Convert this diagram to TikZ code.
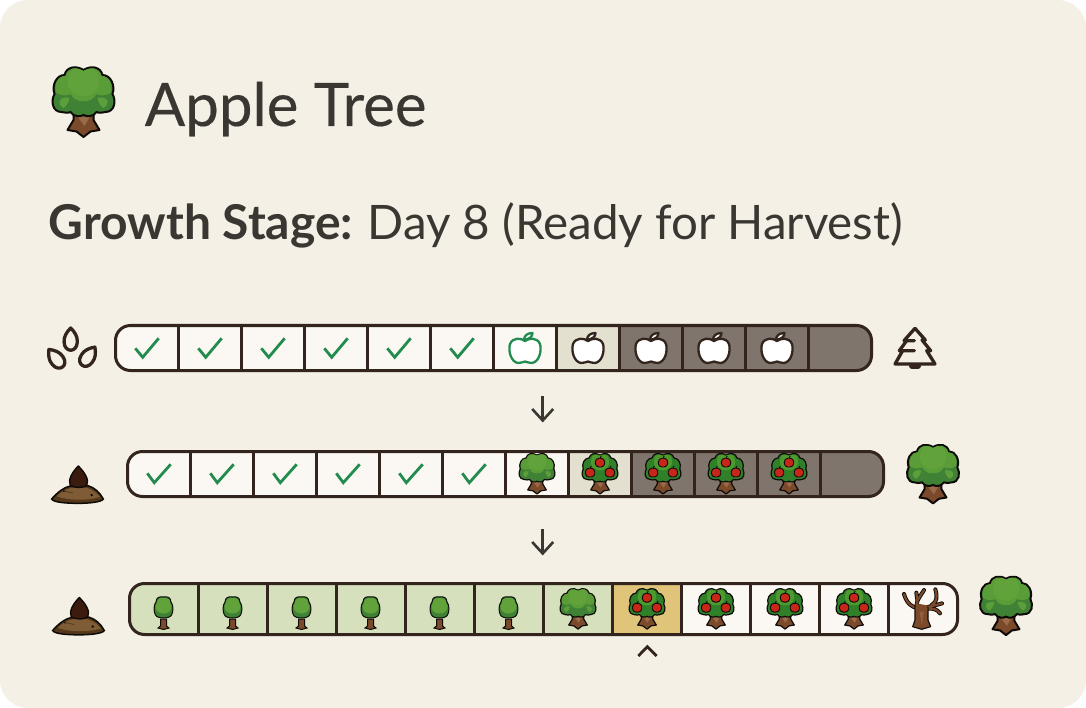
\documentclass[tikz,border=0pt]{standalone}
\usepackage{fontspec}
\usetikzlibrary{calc}
\setmainfont{Lato}
\newfontfamily\medfont[FakeBold=0.25]{Lato}
\definecolor{paper}{HTML}{F4F0E6}
\definecolor{ink}{HTML}{33241D}
\definecolor{txt}{HTML}{3A3632}
\definecolor{cellw}{HTML}{FBF8F3}
\definecolor{celll}{HTML}{E3E0D0}
\definecolor{celld}{HTML}{7F756C}
\definecolor{cellg}{HTML}{D6E0BC}
\definecolor{cellh}{HTML}{E0C47A}
\definecolor{chk}{HTML}{228B4E}
\definecolor{gdark}{HTML}{3F8235}
\definecolor{gmid}{HTML}{5A9C38}
\definecolor{glight}{HTML}{62A23A}
\definecolor{fdark}{HTML}{2F8028}
\definecolor{flight}{HTML}{4F9A2E}
\definecolor{bark}{HTML}{7B4A2B}
\definecolor{barkl}{HTML}{9A6B4A}
\definecolor{barkd}{HTML}{3A1B0E}
\definecolor{soilm}{HTML}{553719}
\definecolor{soill}{HTML}{7E5C36}
\definecolor{applr}{HTML}{C9261A}
\definecolor{outl}{HTML}{0E0A08}
\newcommand{\crownpath}{(0,-32) .. controls (-8,-37) and (-17,-35) .. (-19,-27)
 .. controls (-27,-27) and (-32,-17) .. (-29,-8)
 .. controls (-33,-1) and (-31,10) .. (-22,10)
 .. controls (-19,11) and (-15,11) .. (-13,10)
 .. controls (-10,15) and (-3,15) .. (0,13)
 .. controls (3,15) and (10,15) .. (13,10)
 .. controls (15,11) and (19,11) .. (22,10)
 .. controls (31,10) and (33,-1) .. (29,-8)
 .. controls (32,-17) and (27,-27) .. (19,-27)
 .. controls (17,-35) and (8,-37) .. (0,-32) -- cycle}
\newcommand{\trunkpath}{(-10,9) -- (-10,18) -- (-16,28) -- (-7,29.5) -- (0,35) -- (7,29.5) -- (16,28) -- (10,18) -- (10,9) -- cycle}
\newcommand{\midpath}{(0,-31) .. controls (-8,-36) and (-16,-34) .. (-18,-26)
 .. controls (-26,-26) and (-30,-17) .. (-27,-9)
 .. controls (-22,-6) and (-17,-6) .. (-13,-8)
 .. controls (-10,-2) and (-3,0) .. (0,-1)
 .. controls (3,0) and (10,-2) .. (13,-8)
 .. controls (17,-6) and (22,-6) .. (27,-9)
 .. controls (30,-17) and (26,-26) .. (18,-26)
 .. controls (16,-34) and (8,-36) .. (0,-31) -- cycle}
\newcommand{\lightpath}{(0,-31) .. controls (-8,-35) and (-14,-33) .. (-15,-25)
 .. controls (-17,-17) and (-14,-11) .. (-10,-9)
 .. controls (-6,-5) and (6,-5) .. (10,-9)
 .. controls (14,-11) and (17,-17) .. (15,-25)
 .. controls (14,-33) and (8,-35) .. (0,-31) -- cycle}
\newcommand{\barktrunk}[1]{%
 \draw[line width=#1,draw=outl,fill=bark,line join=round] \trunkpath;
 \fill[barkl] (-8,12) -- (8,12) -- (1,24) -- cycle;}
\newcommand{\fruit}[2]{%
 \draw[line width=.9,draw=outl,fill=applr,rounded corners=3.5] (#1-8,#2-7) rectangle (#1+8,#2+8);
 \draw[line width=.9,draw=outl] (#1,#2-7) -- (#1+2,#2-11);}
\tikzset{
 olw/.store in=\olw, olw=1.2,
 cellbox/.style={inner sep=0,outer sep=0,draw=none,minimum width=#1},
 framebar/.style={draw=ink,line width=3,rounded corners=15},
 divider/.style={draw=ink,line width=3},
 checkmark/.style={draw=chk,line width=2.8,line join=miter},
 arrowline/.style={draw=txt,line width=2.6},
 iconline/.style={draw=ink,line width=3.3,line join=round,line cap=round},
 chev/.style={draw=ink,line width=2.8},
 pics/tree/.style={code={
  \barktrunk{\olw}
  \draw[line width=\olw,draw=outl,fill=gdark] \crownpath;
  \fill[gmid] \midpath;
  \fill[glight] \lightpath;
  \fill[gmid!70!glight] (-24,-1) .. controls (-22,-5) and (-17,-5) .. (-14,-4) .. controls (-15,1) and (-17,4) .. (-20,6) .. controls (-23,4) and (-25,2) .. (-24,-1) -- cycle;
  \fill[gmid!70!glight] (24,-1) .. controls (22,-5) and (17,-5) .. (14,-4) .. controls (15,1) and (17,4) .. (20,6) .. controls (23,4) and (25,2) .. (24,-1) -- cycle;
 }},
 pics/fruittree/.style={code={
  \barktrunk{\olw}
  \draw[line width=\olw,draw=outl,fill=fdark] \crownpath;
  \fill[flight] \lightpath;
  \fruit{0}{-19.6}
  \fruit{-17}{-2.4}
  \fruit{17}{-2.4}
 }},
 pics/sapling/.style={code={
  \draw[line width=1,draw=outl,fill=bark] (-3,6) -- (-3,13) -- (-5.5,15) -- (0,16.5) -- (5.5,15) -- (3,13) -- (3,6) -- cycle;
  \draw[line width=1,draw=outl,fill=gdark] (0,-16) .. controls (-4,-16.5) and (-7,-16) .. (-7.5,-11) .. controls (-10,-8) and (-10,-1) .. (-8,2) .. controls (-6,6) and (6,6) .. (8,2) .. controls (10,-1) and (10,-8) .. (7.5,-11) .. controls (7,-16) and (4,-16.5) .. (0,-16) -- cycle;
  \fill[glight] (0,-15) .. controls (-4,-15) and (-6.5,-14) .. (-6.5,-10) .. controls (-9,-7) and (-8,-3) .. (-5,-1) .. controls (-3,1) and (3,1) .. (5,-1) .. controls (8,-3) and (9,-7) .. (6.5,-10) .. controls (6.5,-14) and (4,-15) .. (0,-15) -- cycle;
 }},
 pics/apple/.style={code={
  \draw[line width=2.3,draw=#1,fill=white,line join=round] (0,-7) .. controls (-4,-10) and (-12,-11) .. (-15,-4) .. controls (-17,3) and (-14,14) .. (-7,15) .. controls (-4,15.5) and (-2,13.5) .. (0,13.5) .. controls (2,13.5) and (4,15.5) .. (7,15) .. controls (14,14) and (17,3) .. (15,-4) .. controls (12,-11) and (4,-10) .. (0,-7) -- cycle;
  \draw[line width=2.3,draw=#1,fill=white,line join=round] (-1,-8) .. controls (-1,-12) and (2,-15) .. (7.5,-15) .. controls (7.5,-11) and (4,-9) .. (-1,-8) -- cycle;
 }},
 pics/soil/.style={code={
  \begin{scope}[scale=1/3]
  \draw[line width=1.5,draw=outl,fill=soilm] (-79,42) .. controls (-60,20) and (-40,6) .. (-20,2) -- (30,2) .. controls (50,8) and (65,22) .. (76,42) .. controls (70,52) and (30,55) .. (0,55) .. controls (-35,55) and (-75,52) .. (-79,42) -- cycle;
  \fill[soill] (-64,34) .. controls (-45,14) and (-20,6) .. (5,6) .. controls (30,6) and (52,18) .. (66,36) .. controls (30,47) and (-30,47) .. (-64,34) -- cycle;
  \fill[outl] (41,30) circle[radius=4];
  \fill[outl] (-42,18) circle[radius=3];
  \draw[line width=.8,draw=soilm] (-42,18) -- (-15,24);
  \draw[line width=1.4,draw=outl,fill=barkd,line join=round] (1,-57) .. controls (-18,-38) and (-31,-15) .. (-23,2) .. controls (-8,9) and (14,9) .. (26,2) .. controls (35,-15) and (20,-38) .. (1,-57) -- cycle;
  \end{scope}
 }},
 pics/seed/.style={code={
  \draw[iconline] (0,-11.5) .. controls (-4,-7.5) and (-7,-3) .. (-6.6,2.5) .. controls (-6.3,13.5) and (6.3,13.5) .. (6.6,2.5) .. controls (7,-3) and (4,-7.5) .. (0,-11.5) -- cycle;
 }},
}
\begin{document}
\begin{tikzpicture}[x=1pt,y=-1pt]
\useasboundingbox (0,0) rectangle (1086,708);
\fill[white] (0,0) rectangle (1086,708);
\fill[paper,rounded corners=28] (0,0) rectangle (1086,708);

\pic[scale=1,olw=2] (titletree) at (83.5,102) {tree};
\node[anchor=base west,inner sep=0,text=txt,font=\medfont\fontsize{60}{60}\selectfont] (title) at (144.5,126) {Apple Tree};
\node[anchor=base west,inner sep=0,text=txt,font=\fontsize{48}{48}\selectfont] (stage) at (48.5,240) {\textbf{Growth Stage:}\hspace{-2pt} {\fontsize{47.5}{48}\selectfont Day 8 (Ready for Harvest)}};

% row 1
\begin{scope}
\clip[rounded corners=15] (115.5,325.5) rectangle (871.5,370.5);
\foreach \c [count=\i from 0] in {cellw,cellw,cellw,cellw,cellw,cellw,cellw,celll,celld,celld,celld,celld}
  \node[cellbox=63,minimum height=45,fill=\c] (a\i) at (147+63*\i,348) {};
\end{scope}
\foreach \i in {0,...,10} \draw[divider] (a\i.north east) -- (a\i.south east);
\draw[framebar] (115.5,325.5) rectangle (871.5,370.5);
\foreach \i in {0,...,5} \draw[checkmark,shift={(147+63*\i,348)}] (-11.7,0.3) -- (-4.3,9.3) -- (11.7,-9.7);
\pic at (525,348) {apple={chk}};
\foreach \i in {7,...,10} \pic at (147+63*\i,348) {apple={ink}};

% row 2
\begin{scope}
\clip[rounded corners=15] (127.5,451.5) rectangle (883.5,496.5);
\foreach \c [count=\i from 0] in {cellw,cellw,cellw,cellw,cellw,cellw,cellw,celll,celld,celld,celld,celld}
  \node[cellbox=63,minimum height=45,fill=\c] (b\i) at (159+63*\i,474) {};
\end{scope}
\foreach \i in {0,...,10} \draw[divider] (b\i.north east) -- (b\i.south east);
\draw[framebar] (127.5,451.5) rectangle (883.5,496.5);
\foreach \i in {0,...,5} \draw[checkmark,shift={(159+63*\i,474)}] (-11.7,-0.7) -- (-4.7,8.7) -- (11.7,-9.7);
\pic[scale=.58,olw=1.2] at (537,473.7) {tree};
\foreach \i in {7,...,10} \pic[scale=.58,olw=1.2] at (159+63*\i,473.7) {fruittree};

% row 3
\begin{scope}
\clip[rounded corners=15] (129.5,583.5) rectangle (957.5,634.5);
\foreach \c [count=\i from 0] in {cellg,cellg,cellg,cellg,cellg,cellg,cellg,cellh,cellw,cellw,cellw,cellw}
  \node[cellbox=69,minimum height=51,fill=\c] (c\i) at (164+69*\i,609) {};
\end{scope}
\foreach \i in {0,...,10} \draw[divider] (c\i.north east) -- (c\i.south east);
\draw[framebar] (129.5,583.5) rectangle (957.5,634.5);
\foreach \i in {0,...,5} \pic at (163.5+69*\i,613) {sapling};
\pic[scale=.58,olw=1.2] at (578,608.8) {tree};
\foreach \i in {7,...,10} \pic[scale=.58,olw=1.2] at (164+69*\i,608.8) {fruittree};

% dead tree
\begin{scope}[shift={(800,570)},scale=1/3]
 \foreach \w/\k in {4/outl,2.2/bark}{
  \draw[line width=\w,draw=\k,line cap=round,line join=round]
   (355,115) .. controls (335,112) and (320,100) .. (312,72)
   (350,105) .. controls (350,90) and (360,80) .. (372,60)
   (352,90) -- (349,68)
   (380,112) .. controls (395,108) and (410,105) .. (426,100)
   (395,105) .. controls (412,95) and (412,80) .. (406,58)
   (385,116) .. controls (400,115) and (412,118) .. (420,130);
 }
 \draw[line width=1.1,draw=outl,fill=bark,line join=round] (345,108) -- (345,150) -- (338,170) -- (365,178) -- (392,170) -- (384,150) -- (384,112) -- cycle;
 \fill[barkl!60!bark] (358,125) -- (372,125) -- (366,165) -- cycle;
 \fill[bark] (347,100) -- (382,106) -- (382,122) -- (347,122) -- cycle;
\end{scope}

% side icons
\pic (s1) at (70.7,339.5) {seed};
\pic[rotate=38] (s2) at (56,358.5) {seed};
\pic[rotate=-35] (s3) at (88.3,356.5) {seed};
\begin{scope}[shift={(730,310)},scale=1/3]
 \draw[iconline] (555,55) -- (522,92) -- (553,92) (530,92) -- (508,122) -- (553,122) (518,122) -- (495,162) -- (615,162) -- (590,122) -- (602,122) -- (576,90) -- (586,90) -- (555,55);
 \fill[ink,rounded corners=3] (537,160) rectangle (573,177);
\end{scope}
\pic at (78,485) {soil};
\pic at (79,616.5) {soil};
\pic[scale=.84,olw=2] at (933,474) {tree};
\pic[scale=.84,olw=2] at (1006,605.7) {tree};

% arrows
\coordinate (d1a) at (542.7,396); \coordinate (d1b) at (542.7,420.5);
\coordinate (d2a) at (542.7,529); \coordinate (d2b) at (542.7,553.5);
\foreach \p/\q in {d1a/d1b,d2a/d2b}{
 \draw[arrowline] (\p) -- (\q);
 \draw[arrowline] ($(\q)+(-10.5,-11.5)$) -- ($(\q)+(0,0)$) -- ($(\q)+(10.5,-11.5)$);
}
\coordinate (ch1) at (638.3,656); \coordinate (ch2) at (647.3,646.7); \coordinate (ch3) at (656.7,656);
\draw[chev] (ch1) -- (ch2) -- (ch3);
\end{tikzpicture}
\end{document}
